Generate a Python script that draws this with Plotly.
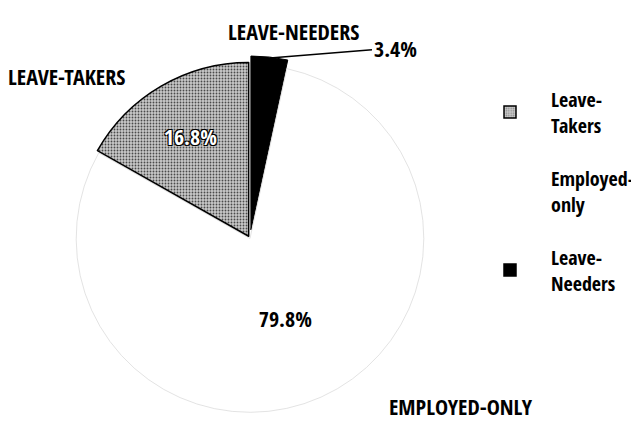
import plotly.graph_objects as go

# data in legend order
groups = ["Leave-Takers", "Employed-only", "Leave-Needers"]
legend_names = ["Leave-<br>Takers", "Employed-<br>only", "Leave-<br>Needers"]
shares = [16.8, 79.8, 3.4]
callouts = ["LEAVE-TAKERS", "EMPLOYED-ONLY", "LEAVE-NEEDERS"]

FONT = "Open Sans Condensed, Roboto Condensed, sans-serif"
fills = ["#c4c4c4", "white", "black"]
edges = ["black", "#d0d0d0", "black"]
shapes = [".", "", ""]
pulls = [0.015, 0, 0.05]
outline = "1px 1px 0 #000, -1px -1px 0 #000, 1px -1px 0 #000, -1px 1px 0 #000"
text_colors = ["white", "black", "black"]
shadows = [outline, "none", "none"]
templates = ["%{value:.1f}%", "%{value:.1f}%", ""]

# the page body keeps its 8px default margin, so the figure is 8px smaller
W, H, OFF = 631, 413, 8


def px(x):
    return (x - OFF) / W


def py(y):
    return 1 - (y - OFF) / H


def rev(a):
    return list(a)[::-1]


# pie drawn clockwise from 12 o'clock: Leave-Needers, Employed-only, Leave-Takers
fig = go.Figure(
    go.Pie(
        labels=rev(groups),
        values=rev(shares),
        sort=False,
        direction="clockwise",
        rotation=0,
        pull=rev(pulls),
        texttemplate=rev(templates),
        textposition="inside",
        insidetextorientation="horizontal",
        textfont=dict(family=FONT, size=22, weight="bold", color=rev(text_colors), shadow=rev(shadows)),
        marker=dict(
            colors=rev(fills),
            line=dict(color=rev(edges), width=[1, 0.6, 1.5]),
            pattern=dict(shape=rev(shapes), fgcolor="#4a4a4a", bgcolor="#c9c9c9", size=3, solidity=0.3),
        ),
        domain=dict(x=[0.0887, 0.6783], y=[0, 0.8838]),
        showlegend=False,
        hoverinfo="label+percent",
    )
)

# legend-only entries so the legend rows can be spaced like the original
for i, name in enumerate(legend_names):
    fig.add_trace(go.Bar(
        x=[None], y=[None], name=name, legendgroup=groups[i],
        marker=dict(color=fills[i], line=dict(color=edges[i] if i != 1 else "white", width=1.5),
                    pattern=dict(shape=shapes[i], fgcolor="#4a4a4a", bgcolor="#c9c9c9", size=3, solidity=0.3)),
    ))

fig.update_layout(
    width=W,
    height=H,
    paper_bgcolor="white",
    plot_bgcolor="white",
    margin=dict(l=0, r=0, t=0, b=0),
    font=dict(family=FONT, color="black"),
    xaxis=dict(visible=False),
    yaxis=dict(visible=False),
    legend=dict(
        x=px(469), y=py(191), xanchor="left", yanchor="middle",
        font=dict(family=FONT, size=20, weight="bold", color="black"),
        itemwidth=72, tracegroupgap=24, traceorder="grouped",
    ),
)

label_pos = {"LEAVE-TAKERS": (67, 76), "EMPLOYED-ONLY": (461, 406), "LEAVE-NEEDERS": (293, 31)}
for c in callouts:
    x, y = label_pos[c]
    fig.add_annotation(x=px(x), y=py(y), xref="paper", yref="paper", xanchor="center", yanchor="middle",
                       text=c, showarrow=False, font=dict(family=FONT, size=22, weight="bold", color="black"))

# small slice gets its value outside with a leader line
fig.add_annotation(
    x=px(270), y=py(58), xref="paper", yref="paper",
    text=f"{shares[2]:.1f}%", showarrow=True, arrowhead=0, arrowwidth=1.5,
    arrowcolor="black", ax=125, ay=-10,
    font=dict(family=FONT, size=22, weight="bold", color="black"),
)

fig.write_html("out.html")
